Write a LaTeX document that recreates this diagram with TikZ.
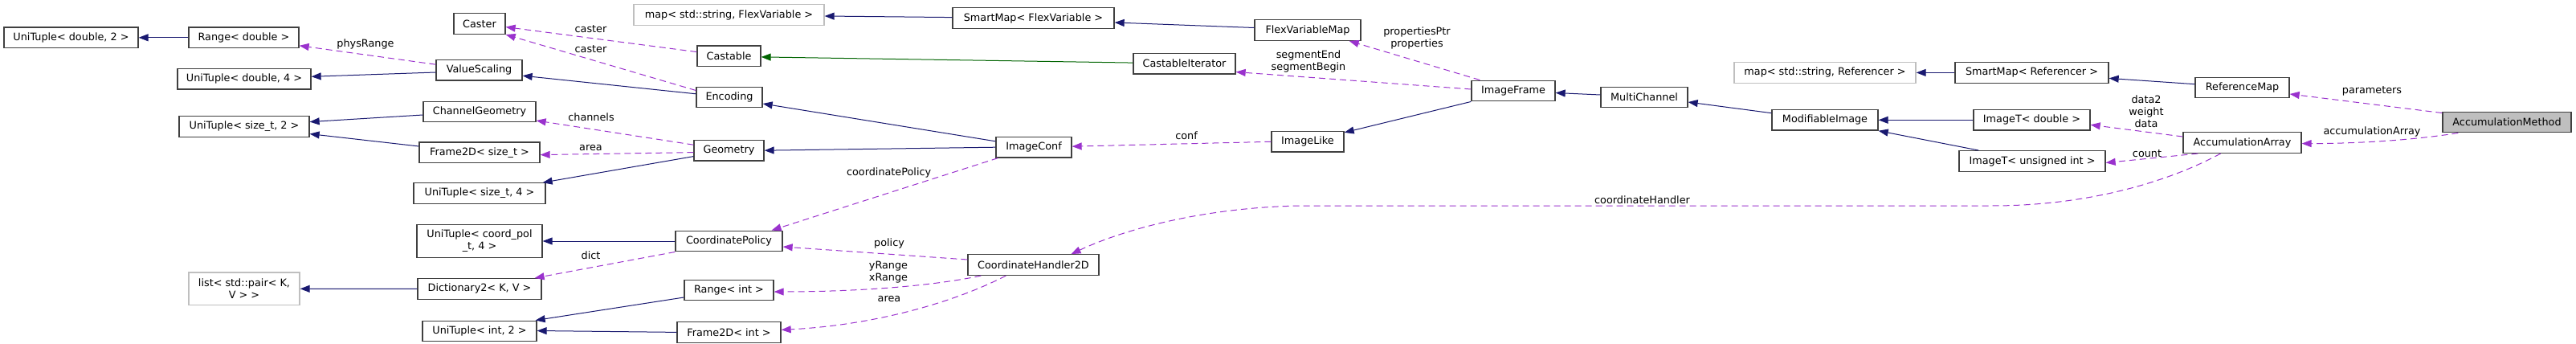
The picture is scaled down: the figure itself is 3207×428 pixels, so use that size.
\documentclass[tikz,border=0pt]{standalone}
\usepackage{fontspec}
\setmainfont{DejaVu Sans}
\usetikzlibrary{arrows.meta,calc}
\definecolor{inhblue}{HTML}{191970}
\definecolor{usepurple}{HTML}{9A32CD}
\definecolor{tmplgreen}{HTML}{006400}
\definecolor{boxgray}{HTML}{BFBFBF}
\definecolor{boxborder}{HTML}{404040}
\definecolor{extborder}{HTML}{BFBFBF}
\newcommand{\dfont}{\fontsize{12.8}{15}\selectfont}
\tikzset{
  cls/.style={draw=boxborder, line width=1.3pt, fill=white, inner sep=0pt,
    minimum height=25.6pt, font=\dfont, align=center},
  ext/.style={cls, draw=extborder},
  cur/.style={cls, fill=boxgray},
  dbl/.style={minimum height=40.5pt},
  inh/.style={draw=inhblue, line width=1.0pt, -{Triangle[length=12pt,width=9pt]}},
  tmpl/.style={draw=tmplgreen, line width=1.0pt, -{Triangle[length=12pt,width=9pt]}},
  use/.style={draw=usepurple, line width=1.0pt, dash pattern=on 8pt off 5pt,
    -{Triangle[length=12pt,width=9pt]}},
  lbl/.style={font=\dfont, inner sep=0pt, align=center}
}
\begin{document}
\begin{tikzpicture}[x=1pt,y=-1pt]
\useasboundingbox (0,0) rectangle (3207,428);
% nodes
\node[cls, minimum width=167pt] (utd2) at (88.5,46.8) {UniTuple< double, 2 >};
\node[cls, minimum width=137pt] (ranged) at (303.5,46.8) {Range< double >};
\node[cls, minimum width=166pt] (utd4) at (304,98.3) {UniTuple< double, 4 >};
\node[cls, minimum width=162pt] (uts2) at (304,157.6) {UniTuple< size\_t, 2 >};
\node[ext, dbl, minimum width=138pt] (list) at (304,359.3) {list< std::pair< K,\\V > >};
\node[cls, minimum width=64pt] (caster) at (597,29.6) {Caster};
\node[cls, minimum width=107pt] (valscal) at (596.5,87.2) {ValueScaling};
\node[cls, minimum width=140pt] (chgeo) at (597,139) {ChannelGeometry};
\node[cls, minimum width=150pt] (frs) at (597,189.7) {Frame2D< size\_t >};
\node[cls, minimum width=164pt] (uts4) at (597,240.6) {UniTuple< size\_t, 4 >};
\node[cls, dbl, minimum width=156pt] (utcp) at (597,300) {UniTuple< coord\_pol\\\_t, 4 >};
\node[cls, minimum width=154pt] (dict) at (597,359.4) {Dictionary2< K, V >};
\node[cls, minimum width=142pt] (uti2) at (597,412) {UniTuple< int, 2 >};
\node[ext, minimum width=237pt] (mapfv) at (907.5,18.5) {map< std::string, FlexVariable >};
\node[cls, minimum width=79pt] (castable) at (907.5,69.9) {Castable};
\node[cls, minimum width=82pt] (encoding) at (908,121) {Encoding};
\node[cls, minimum width=87pt] (geometry) at (907.5,187.2) {Geometry};
\node[cls, minimum width=133pt] (coordpol) at (907.5,300) {CoordinatePolicy};
\node[cls, minimum width=111pt] (rangei) at (907.5,361) {Range< int >};
\node[cls, minimum width=129pt] (fri) at (907.5,413.4) {Frame2D< int >};
\node[cls, minimum width=201pt] (smapfv) at (1286.5,22.6) {SmartMap< FlexVariable >};
\node[cls, minimum width=127pt] (castit) at (1474.5,79.1) {CastableIterator};
\node[cls, minimum width=94pt] (imgconf) at (1287,183.2) {ImageConf};
\node[cls, minimum width=163pt] (coordh) at (1286.5,329.6) {CoordinateHandler2D};
\node[cls, minimum width=132pt] (flexmap) at (1628,37.5) {FlexVariableMap};
\node[cls, minimum width=104pt] (imgframe) at (1884,113) {ImageFrame};
\node[cls, minimum width=90pt] (imglike) at (1628,176.3) {ImageLike};
\node[cls, minimum width=108pt] (multich) at (2047,121) {MultiChannel};
\node[ext, minimum width=226pt] (mapref) at (2272,90.4) {map< std::string, Referencer >};
\node[cls, minimum width=132pt] (modimg) at (2272,149.3) {ModifiableImage};
\node[cls, minimum width=191pt] (smapref) at (2529.5,90.4) {SmartMap< Referencer >};
\node[cls, minimum width=145pt] (imgtd) at (2529.5,149.3) {ImageT< double >};
\node[cls, minimum width=182pt] (imgtu) at (2530,200.5) {ImageT< unsigned int >};
\node[cls, minimum width=117pt] (refmap) at (2791.5,109) {ReferenceMap};
\node[cls, minimum width=147pt] (accarr) at (2791.5,177.6) {AccumulationArray};
\node[cur, minimum width=160pt] (accmeth) at (3121,152) {AccumulationMethod};
% inheritance
\draw[inh] (ranged.west) -- (utd2.east);
\draw[inh] ($(valscal.west)+(0,2.8)$) -- ($(utd4.east)+(0,-3)$);
\draw[inh] ($(chgeo.west)+(0,4)$) -- ($(uts2.east)+(0,-6)$);
\draw[inh] ($(frs.west)+(0,-7.7)$) -- ($(uts2.east)+(0,9)$);
\draw[inh] (dict.west) -- (list.east);
\draw[inh] (coordpol.west) -- (utcp.east);
\draw[inh] ($(geometry.west)+(0,7.4)$) -- ($(uts4.north east)+(-4,0)$);
\draw[inh] ($(encoding.west)+(0,-4.2)$) -- ($(valscal.east)+(0,7)$);
\draw[inh] ($(rangei.west)+(0,9)$) -- ($(uti2.north east)+(-2,0)$);
\draw[inh] (fri.west) -- ($(uti2.east)+(0,-0.5)$);
\draw[inh] ($(smapfv.west)+(0,-1)$) -- ($(mapfv.east)+(0,1.5)$);
\draw[inh] ($(flexmap.west)+(0,-3)$) -- ($(smapfv.east)+(0,5.4)$);
\draw[inh] ($(imgconf.west)+(0,-7.4)$) -- ($(encoding.east)+(0,8)$);
\draw[inh] (imgconf.west) -- (geometry.east);
\draw[inh] (imgframe.south west) -- ($(imglike.north east)+(0,2)$);
\draw[inh] ($(multich.west)+(0,-3)$) -- ($(imgframe.east)+(0,2.5)$);
\draw[inh] ($(modimg.west)+(0,-8.6)$) -- ($(multich.east)+(0,6)$);
\draw[inh] (imgtd.west) -- (modimg.east);
\draw[inh] ($(imgtu.north west)+(25,0)$) -- (modimg.south east);
\draw[inh] (smapref.west) -- (mapref.east);
\draw[inh] ($(refmap.west)+(0,-4.3)$) -- ($(smapref.east)+(0,7)$);
\draw[tmpl] ($(castit.west)+(0,-1)$) -- ($(castable.east)+(0,1)$);
% usage
\draw[use] ($(valscal.west)+(0,-7)$) -- ($(ranged.east)+(0,10)$);
\node[lbl] (lphys) at (455,55) {physRange};
\draw[use] ($(castable.west)+(0,-5.3)$) -- ($(caster.east)+(0,4)$);
\node[lbl] (lcast1) at (735.5,36) {caster};
\draw[use] ($(encoding.west)+(0,-8.5)$) -- (caster.south east);
\node[lbl] (lcast2) at (735.5,61.3) {caster};
\draw[use] ($(geometry.west)+(0,-7)$) -- ($(chgeo.east)+(0,11)$);
\node[lbl] (lchan) at (736,145.8) {channels};
\draw[use] ($(geometry.west)+(0,2.4)$) -- ($(frs.east)+(0,2.9)$);
\node[lbl] (larea1) at (735.5,184.5) {area};
\draw[use] (coordpol.south west) -- ($(dict.north east)+(-9,0)$);
\node[lbl] (ldict) at (735.5,318) {dict};
\draw[use] ($(imgconf.south west)+(3,0)$) -- ($(coordpol.north east)+(-14,0)$);
\node[lbl] (lcpol) at (1106.6,214.5) {coordinatePolicy};
\draw[use] ($(coordh.west)+(0,-6.6)$) -- ($(coordpol.east)+(0,7)$);
\node[lbl] (lpol) at (1107,302.7) {policy};
\draw[use] ($(coordh.south west)+(17,0)$) .. controls (1150,358) and (1050,363) .. ($(rangei.east)+(0,2)$);
\node[lbl] (lrange) at (1106,338.5) {yRange\\xRange};
\draw[use] ($(coordh.south west)+(48,0)$) .. controls (1180,380) and (1080,405) .. ($(fri.east)+(0,-3)$);
\node[lbl] (larea2) at (1107,372.4) {area};
\draw[use] (imglike.west) -- ($(imgconf.east)+(0,-1)$);
\node[lbl] (lconf) at (1477,168.7) {conf};
\draw[use] ($(imgframe.north west)+(11,0)$) -- ($(flexmap.south east)+(-15,0)$);
\node[lbl] (lprop) at (1764,47.3) {propertiesPtr\\properties};
\draw[use] ($(imgframe.west)+(0,-2)$) -- ($(castit.south east)+(0,-3)$);
\node[lbl] (lseg) at (1629,76.8) {segmentEnd\\segmentBegin};
\draw[use] ($(accarr.west)+(0,-7.6)$) -- ($(imgtd.east)+(0,6)$);
\node[lbl] (ldata) at (2672,138.5) {data2\\weight\\data};
\draw[use] ($(accarr.south west)+(19,0)$) -- ($(imgtu.east)+(0,2)$);
\node[lbl] (lcount) at (2673,190.6) {count};
\draw[use] ($(accarr.south)+(-27,0)$) .. controls (2700,226) and (2600,256) .. (2480,256)
  -- (1620,256) .. controls (1500,258) and (1400,285) .. ($(coordh.north)+(47,0)$);
\node[lbl] (lch) at (2044.5,249) {coordinateHandler};
\draw[use] ($(accmeth.north west)+(0,2)$) -- ($(refmap.east)+(0,8)$);
\node[lbl] (lparam) at (2953,113.8) {parameters};
\draw[use] ($(accmeth.south west)+(20,0)$) .. controls (3000,175) and (2930,178.6) .. ($(accarr.east)+(0,1)$);
\node[lbl] (laccarr) at (2953,164.3) {accumulationArray};
\end{tikzpicture}
\end{document}
